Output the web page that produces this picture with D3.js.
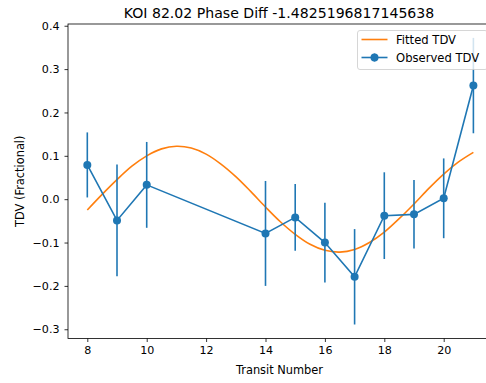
<!DOCTYPE html>
<meta charset="utf-8">
<style>
body { margin: 0; background: #fff; }
text { font-family: "DejaVu Sans", sans-serif; fill: #000; }
.tick text { font-size: 11.1px; }
.axis path, .axis line { stroke: #000; stroke-width: 0.8px; }
</style>
<body>
<script src="https://d3js.org/d3.v7.min.js"></script>
<script>

var width = 486,
    height = 383;

// observed transits
var transit = [8, 9, 10, 14, 15, 16, 17, 18, 19, 20, 21];
var tdv     = [0.079, -0.049, 0.033, -0.079, -0.042, -0.100, -0.179, -0.038, -0.035, 0.002, 0.262];
var tdvErr  = [0.075, 0.129, 0.099, 0.121, 0.077, 0.092, 0.110, 0.100, 0.079, 0.092, 0.110];

// fitted curve, every half transit
var fitX = [8, 8.5, 9, 9.5, 10, 10.5, 11, 11.5, 12, 12.5, 13, 13.5, 14, 14.5, 15,
            15.5, 16, 16.5, 17, 17.5, 18, 18.5, 19, 19.5, 20, 20.5, 21];
var fitY = [-0.025, 0.011, 0.045, 0.076, 0.100, 0.116, 0.122, 0.118, 0.104, 0.081, 0.052, 0.018, -0.018, -0.052, -0.081,
            -0.104, -0.118, -0.122, -0.116, -0.100, -0.076, -0.045, -0.011, 0.025, 0.058, 0.086, 0.108];

var xTicks = [8, 10, 12, 14, 16, 18, 20];
var yTicks = [-0.3, -0.2, -0.1, 0.0, 0.1, 0.2, 0.3, 0.4];

var margin = {left: 68, top: 24, right: 492.7, bottom: 338.5};

var x = d3.scaleLinear().domain([7.35, 21.65]).range([margin.left, margin.right]);
var y = d3.scaleLinear().domain([-0.3213, 0.404]).range([margin.bottom, margin.top]);

var blue = "#1f77b4", orange = "#ff7f0e";

var svg = d3.select("body").append("svg")
    .attr("width", width)
    .attr("height", height);

// spines
svg.append("rect")
    .attr("x", margin.left).attr("y", margin.top)
    .attr("width", margin.right - margin.left)
    .attr("height", margin.bottom - margin.top)
    .attr("fill", "none").attr("stroke", "#000").attr("stroke-width", 0.8);

svg.append("g")
    .attr("class", "axis")
    .attr("transform", "translate(0," + margin.bottom + ")")
    .call(d3.axisBottom(x).tickValues(xTicks).tickSize(3.5).tickPadding(4.5).tickFormat(d3.format("d")))
    .call(function(g) { g.select(".domain").remove(); });

svg.append("g")
    .attr("class", "axis")
    .attr("transform", "translate(" + margin.left + ",0)")
    .call(d3.axisLeft(y).tickValues(yTicks).tickSize(3.5).tickPadding(5).tickFormat(function(d) {
      return (d < 0 ? "\u2212" : "") + Math.abs(d).toFixed(1);
    }))
    .call(function(g) { g.select(".domain").remove(); });

// fitted line
svg.append("path")
    .datum(fitX.map(function(d, i) { return [d, fitY[i]]; }))
    .attr("fill", "none")
    .attr("stroke", orange)
    .attr("stroke-width", 1.6)
    .attr("d", d3.line().x(function(d) { return x(d[0]); }).y(function(d) { return y(d[1]); }).curve(d3.curveCatmullRom));

// observed with errors
var obs = transit.map(function(d, i) { return {t: d, v: tdv[i], e: tdvErr[i]}; });

svg.selectAll(".err")
    .data(obs)
  .enter().append("line")
    .attr("x1", function(d) { return x(d.t); })
    .attr("x2", function(d) { return x(d.t); })
    .attr("y1", function(d) { return y(d.v - d.e); })
    .attr("y2", function(d) { return y(d.v + d.e); })
    .attr("stroke", blue)
    .attr("stroke-width", 1.6);

svg.append("path")
    .datum(obs)
    .attr("fill", "none")
    .attr("stroke", blue)
    .attr("stroke-width", 1.6)
    .attr("d", d3.line().x(function(d) { return x(d.t); }).y(function(d) { return y(d.v); }));

svg.selectAll(".dot")
    .data(obs)
  .enter().append("circle")
    .attr("cx", function(d) { return x(d.t); })
    .attr("cy", function(d) { return y(d.v); })
    .attr("r", 4)
    .attr("fill", blue);

// title and labels
svg.append("text")
    .attr("x", 279)
    .attr("y", 18)
    .attr("text-anchor", "middle")
    .style("font-size", "14.1px")
    .text("KOI 82.02 Phase Diff -1.4825196817145638");

svg.append("text")
    .attr("x", 279.5)
    .attr("y", 374)
    .attr("text-anchor", "middle")
    .style("font-size", "11.4px")
    .text("Transit Number");

svg.append("text")
    .attr("transform", "translate(24," + ((margin.top + margin.bottom) / 2) + ") rotate(-90)")
    .attr("text-anchor", "middle")
    .style("font-size", "11.4px")
    .text("TDV (Fractional)");

// legend
var lg = svg.append("g").attr("transform", "translate(357.5,30.5)");
lg.append("rect")
    .attr("width", 130).attr("height", 39).attr("rx", 2.5)
    .attr("fill", "#fff").attr("fill-opacity", 0.8)
    .attr("stroke", "#ccc").attr("stroke-width", 0.8);
lg.append("line").attr("x1", 4).attr("x2", 30).attr("y1", 9).attr("y2", 9)
    .attr("stroke", orange).attr("stroke-width", 1.6);
lg.append("line").attr("x1", 4).attr("x2", 30).attr("y1", 27).attr("y2", 27)
    .attr("stroke", blue).attr("stroke-width", 1.6);
lg.append("line").attr("x1", 17).attr("x2", 17).attr("y1", 23).attr("y2", 31)
    .attr("stroke", blue).attr("stroke-width", 1.6);
lg.append("circle").attr("cx", 17).attr("cy", 27).attr("r", 4).attr("fill", blue);
lg.append("text").attr("x", 38.5).attr("y", 13).style("font-size", "11.6px").text("Fitted TDV");
lg.append("text").attr("x", 38.5).attr("y", 31).style("font-size", "11.6px").text("Observed TDV");

</script>
